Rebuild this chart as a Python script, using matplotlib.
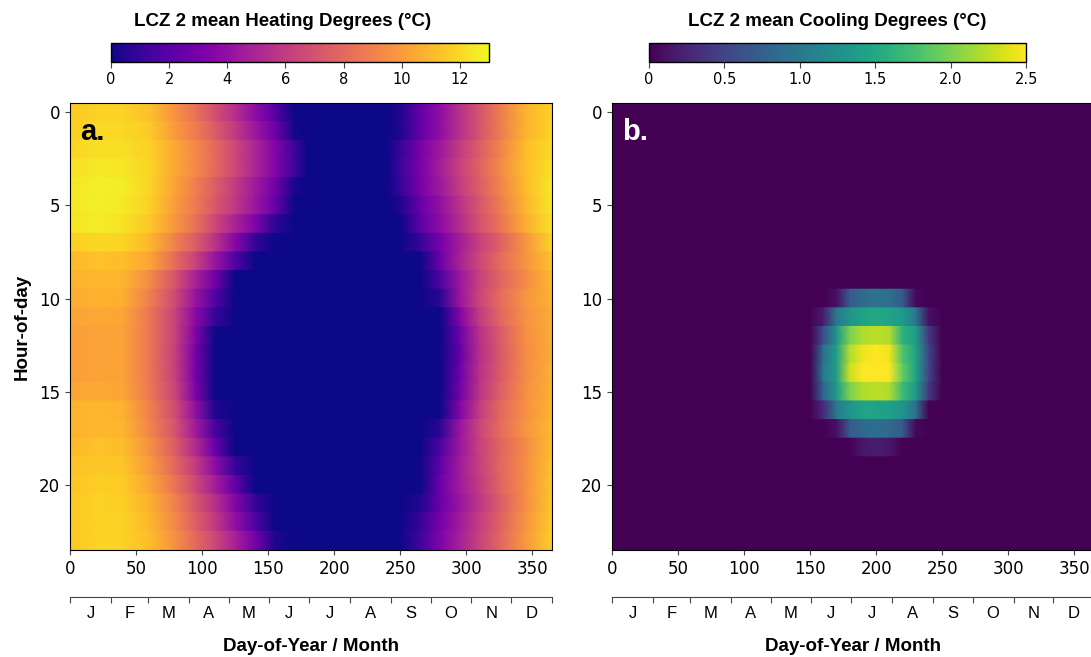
import numpy as np
import matplotlib
matplotlib.use('Agg')
import matplotlib.pyplot as plt

plt.rcParams['font.family'] = 'DejaVu Sans'

# ---- data ----
# heating degrees: one row per hour (0..23), sampled at these days
heat_days = [0, 20, 40, 60, 80, 95, 110, 125, 140, 155, 170, 180,
             240, 250, 265, 280, 295, 310, 325, 345, 365]
heat = [
    [11.5, 11.8, 11.8, 11.3, 9.6, 8.4, 6.9, 5.4, 3.9, 2.0, 0, 0,     0, 0.4, 2.4, 3.9, 5.5, 7.1, 8.7, 10.8, 11.8],
    [11.7, 12.0, 12.0, 11.6, 9.9, 8.8, 7.4, 5.9, 4.4, 2.8, 0.2, 0,   0, 0.4, 2.4, 3.9, 5.5, 7.1, 8.7, 10.8, 11.9],
    [11.9, 12.2, 12.2, 11.8, 10.4, 9.3, 8.0, 6.5, 5.0, 3.5, 1.2, 0,  0, 1.0, 3.0, 4.4, 6.0, 7.5, 9.0, 11.1, 12.1],
    [12.2, 12.5, 12.4, 11.9, 10.4, 9.3, 8.0, 6.5, 5.0, 3.5, 1.2, 0,  0, 1.2, 3.1, 4.6, 6.2, 7.7, 9.2, 11.2, 12.3],
    [12.4, 12.7, 12.6, 11.9, 10.2, 8.9, 7.5, 6.0, 4.5, 2.9, 0.3, 0,  0, 1.0, 3.0, 4.4, 6.0, 7.5, 9.0, 11.1, 12.5],
    [12.4, 12.7, 12.5, 11.8, 10.0, 8.7, 7.3, 5.8, 4.3, 2.6, 0, 0,    0, 0.4, 2.5, 4.0, 5.6, 7.2, 8.7, 10.9, 12.5],
    [12.3, 12.6, 12.3, 11.5, 9.8, 8.3, 6.5, 4.9, 3.4, 0.8, 0, 0,     0, 0, 2.2, 3.8, 5.3, 7.0, 8.4, 10.6, 12.3],
    [11.7, 12.0, 11.9, 11.0, 8.9, 7.5, 5.6, 3.6, 1.0, 0, 0, 0,       0, 0, 1.0, 3.0, 4.6, 6.2, 7.6, 9.7, 11.9],
    [11.0, 11.3, 11.2, 10.4, 8.0, 6.3, 4.2, 1.8, 0, 0, 0, 0,         0, 0, 0, 2.6, 4.8, 6.5, 8.0, 9.7, 11.3],
    [10.8, 11.0, 10.9, 9.4, 7.0, 4.8, 2.8, 0, 0, 0, 0, 0,            0, 0, 0, 1.6, 4.3, 6.2, 7.7, 9.4, 11.0],
    [10.6, 10.8, 10.7, 8.9, 6.6, 4.2, 1.8, 0, 0, 0, 0, 0,            0, 0, 0, 0.7, 4.2, 6.4, 8.0, 9.8, 10.8],
    [10.3, 10.5, 10.4, 8.6, 6.2, 3.7, 1.0, 0, 0, 0, 0, 0,            0, 0, 0, 0, 3.4, 6.0, 7.8, 9.6, 10.6],
    [10.1, 10.3, 10.3, 8.6, 6.2, 3.4, 0, 0, 0, 0, 0, 0,              0, 0, 0, 0, 2.6, 5.5, 7.3, 9.5, 10.6],
    [10.1, 10.3, 10.3, 8.6, 6.1, 3.0, 0, 0, 0, 0, 0, 0,              0, 0, 0, 0, 2.4, 5.4, 7.2, 9.4, 10.6],
    [10.1, 10.3, 10.3, 8.6, 6.1, 3.0, 0, 0, 0, 0, 0, 0,              0, 0, 0, 0, 2.6, 5.5, 7.3, 9.4, 10.7],
    [10.4, 10.5, 10.4, 8.7, 6.3, 3.2, 0, 0, 0, 0, 0, 0,              0, 0, 0, 0, 2.8, 5.6, 7.5, 9.5, 10.8],
    [10.8, 11.0, 10.8, 9.0, 6.7, 4.0, 0.4, 0, 0, 0, 0, 0,            0, 0, 0, 0, 3.4, 6.0, 7.9, 9.6, 10.9],
    [10.8, 11.0, 10.9, 9.2, 7.0, 4.5, 1.5, 0, 0, 0, 0, 0,            0, 0, 0, 0.7, 4.2, 6.4, 8.0, 9.8, 11.0],
    [11.0, 11.3, 11.2, 9.6, 7.4, 5.2, 2.5, 0, 0, 0, 0, 0,            0, 0, 0, 1.6, 4.3, 6.2, 7.7, 9.4, 11.1],
    [11.3, 11.5, 11.4, 10.0, 7.9, 6.0, 3.8, 1.0, 0, 0, 0, 0,         0, 0, 0, 2.3, 4.5, 6.2, 7.8, 9.5, 11.3],
    [11.4, 11.7, 11.6, 10.4, 8.4, 6.6, 4.6, 2.4, 0, 0, 0, 0,         0, 0, 0, 2.6, 4.5, 6.0, 7.7, 9.5, 11.4],
    [11.5, 11.8, 11.7, 10.8, 8.9, 7.2, 5.4, 3.5, 1.0, 0, 0, 0,       0, 0, 0.4, 2.6, 4.2, 5.8, 7.4, 9.5, 11.5],
    [11.5, 11.8, 11.8, 11.0, 9.2, 7.6, 5.9, 4.0, 1.8, 0, 0, 0,       0, 0, 1.0, 3.0, 4.5, 6.1, 7.6, 9.7, 11.6],
    [11.5, 11.8, 11.8, 11.2, 9.5, 8.0, 6.5, 4.8, 3.0, 0.4, 0, 0,     0, 0, 1.3, 3.2, 4.7, 6.3, 7.8, 9.9, 11.7],
]

# cooling degrees: zero everywhere except hours 10..18 around July
cool_hours = [10, 11, 12, 13, 14, 15, 16, 17, 18]
cool_days = [150, 160, 170, 180, 190, 200, 210, 220, 230, 240, 250]
cool = [
    [0, 0, 0.1, 0.7, 0.85, 0.95, 0.9, 0.7, 0.05, 0, 0],
    [0, 0.2, 1.0, 1.3, 1.45, 1.5, 1.45, 1.35, 1.0, 0.1, 0],
    [0, 0.6, 1.3, 2.0, 2.2, 2.25, 2.2, 1.6, 1.4, 0.4, 0],
    [0, 0.9, 1.4, 2.2, 2.45, 2.5, 2.45, 1.8, 1.45, 0.5, 0],
    [0, 1.0, 1.4, 2.3, 2.5, 2.55, 2.5, 1.9, 1.45, 0.5, 0],
    [0, 0.8, 1.35, 2.0, 2.2, 2.25, 2.2, 1.7, 1.35, 0.4, 0],
    [0, 0.3, 1.0, 1.3, 1.45, 1.45, 1.4, 1.3, 0.9, 0, 0],
    [0, 0, 0.1, 0.7, 0.85, 0.9, 0.85, 0.7, 0.05, 0, 0],
    [0, 0, 0, 0, 0.15, 0.2, 0.15, 0, 0, 0, 0],
]

month_starts = [0, 31, 59, 90, 120, 151, 181, 212, 243, 273, 304, 334, 365]
month_labels = ['J', 'F', 'M', 'A', 'M', 'J', 'J', 'A', 'S', 'O', 'N', 'D']
day_ticks = [0, 50, 100, 150, 200, 250, 300, 350]
hour_ticks = [0, 5, 10, 15, 20]
heat_cticks = [0, 2, 4, 6, 8, 10, 12]
cool_cticks = [0, 0.5, 1.0, 1.5, 2.0, 2.5]
cool_clabels = ['0', '0.5', '1.0', '1.5', '2.0', '2.5']


def band_grid(days, table):
    # every hour is its own band: same values on its top and bottom edge,
    # so gouraud shading only blends along the day axis
    c = np.repeat(np.asarray(table, dtype=float), 2, axis=0)
    n = c.shape[0] // 2
    edges = np.repeat(np.arange(n), 2) + np.tile([-0.5, 0.5], n)
    x, y = np.meshgrid(days, edges)
    return x, y, c


cool_full = np.zeros((24, len(cool_days) + 2))
cool_full[cool_hours, 1:-1] = cool
cool_days_full = [0] + cool_days + [365]

bold = dict(family='Liberation Sans', fontweight='bold', fontsize=13.5)

fig = plt.figure(figsize=(10.91, 6.57), dpi=100)
ax_a = fig.add_axes([0.0642, 0.1629, 0.4418, 0.6804])
ax_b = fig.add_axes([0.5610, 0.1629, 0.4418, 0.6804])
cax_a = fig.add_axes([0.1017, 0.9056, 0.3465, 0.0289])
cax_b = fig.add_axes([0.5949, 0.9056, 0.3456, 0.0289])

panels = [
    (ax_a, cax_a, heat_days, heat, 'plasma', 13, heat_cticks, [str(t) for t in heat_cticks],
     'LCZ 2 mean Heating Degrees (°C)', 0.455, 'a.', 'black'),
    (ax_b, cax_b, cool_days_full, cool_full, 'viridis', 2.5, cool_cticks, cool_clabels,
     'LCZ 2 mean Cooling Degrees (°C)', 0.5, 'b.', 'white'),
]

for ax, cax, days, table, cmap, vmax, cticks, clabels, ctitle, tx, tag, tagc in panels:
    x, y, c = band_grid(days, table)
    mesh = ax.pcolormesh(x, y, c, shading='gouraud', cmap=cmap, vmin=0, vmax=vmax,
                         rasterized=True)
    ax.set_xlim(0, 365)
    ax.set_ylim(23.5, -0.5)
    ax.set_xticks(day_ticks)
    ax.set_yticks(hour_ticks)
    ax.tick_params(labelsize=12, color='#444444')
    ax.text(0.021, 0.966, tag, transform=ax.transAxes, color=tagc, va='top',
            family='Liberation Sans', fontweight='bold', fontsize=21)

    # month axis below the day axis
    ax2 = ax.twiny()
    ax2.set_xlim(0, 365)
    ax2.xaxis.set_ticks_position('bottom')
    ax2.xaxis.set_label_position('bottom')
    ax2.spines['bottom'].set_position(('outward', 34))
    for s in ['top', 'left', 'right']:
        ax2.spines[s].set_visible(False)
    ax2.spines['bottom'].set_color('#444444')
    ax2.set_xticks(month_starts)
    ax2.set_xticklabels([])
    mids = [(a + b) / 2 for a, b in zip(month_starts[:-1], month_starts[1:])]
    ax2.set_xticks(mids, minor=True)
    ax2.set_xticklabels(month_labels, minor=True, family='Liberation Sans', fontsize=12)
    ax2.tick_params(axis='x', which='major', length=4, color='#444444')
    ax2.tick_params(axis='x', which='minor', length=0, pad=6.5)
    ax2.set_xlabel('Day-of-Year / Month', labelpad=12, **bold)

    cb = fig.colorbar(mesh, cax=cax, orientation='horizontal', ticks=cticks)
    cb.set_ticklabels(clabels)
    cb.ax.tick_params(labelsize=10.5, length=4, color='#444444')
    cb.outline.set_linewidth(1.0)
    cax.set_title(ctitle, x=tx, pad=12, **bold)

ax_a.set_ylabel('Hour-of-day', labelpad=6, **bold)

fig.savefig('out.png', dpi=100)
